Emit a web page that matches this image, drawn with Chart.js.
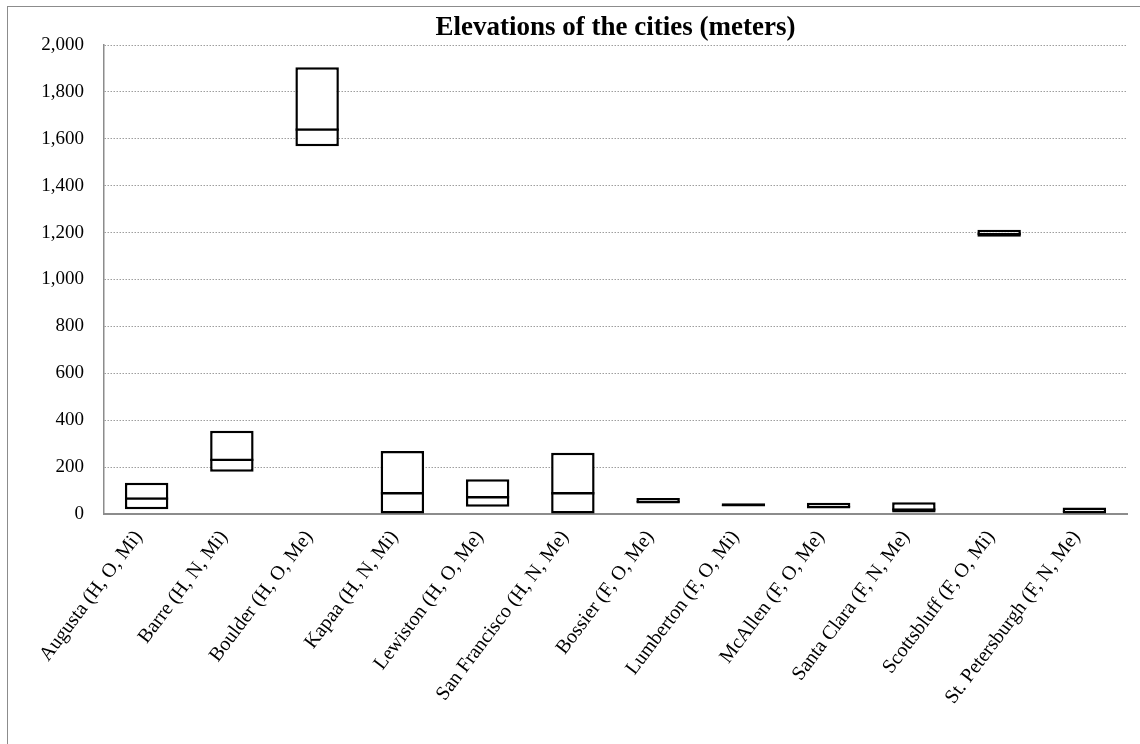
<!DOCTYPE html>
<html>
<head>
<meta charset="utf-8">
<title>Elevations of the cities</title>
<script src="https://cdn.jsdelivr.net/npm/chart.js@4.4.1/dist/chart.umd.min.js"></script>
<style>
  html, body { margin: 0; padding: 0; background: #fff; overflow: hidden; }
  #wrap { position: relative; width: 1140px; height: 744px; }
  #frame {
    position: absolute; left: 7px; top: 6px; width: 1400px; height: 1000px;
    border: 1.5px solid #8c8c8c; pointer-events: none;
  }
</style>
</head>
<body>
<div id="wrap">
  <canvas id="chart" width="1140" height="744"></canvas>
  <div id="frame"></div>
</div>
<script>
// cities: (H/F, O/N, Mi/Me)
const cities = [
  "Augusta (H, O, Mi)", "Barre (H, N, Mi)", "Boulder (H, O, Me)", "Kapaa (H, N, Mi)",
  "Lewiston (H, O, Me)", "San Francisco (H, N, Me)", "Bossier (F, O, Me)", "Lumberton (F, O, Mi)",
  "McAllen (F, O, Me)", "Santa Clara (F, N, Me)", "Scottsbluff (F, O, Mi)", "St. Petersburgh (F, N, Me)"
];

// elevation spread per city, meters
const lowElev  = [20, 180, 1568, 0, 31, 0, 45, 32, 23, 6, 1182, 2];
const midElev  = [71, 237, 1645, 94, 77, 94, 55, 38, 35, 24, 1198, 14];
const highElev = [133, 355, 1905, 269, 148, 261, 68, 46, 48, 50, 1212, 28];

const yTicks = [0, 200, 400, 600, 800, 1000, 1200, 1400, 1600, 1800, 2000];

const serif = "'Liberation Serif', 'Times New Roman', serif";

const boxes = cities.map((c, i) => [lowElev[i], highElev[i]]);
const lowerHalf = cities.map((c, i) => [lowElev[i], midElev[i]]);

const ctx = document.getElementById("chart").getContext("2d");

new Chart(ctx, {
  type: "bar",
  data: {
    labels: cities,
    datasets: [
      {
        // whole box low..high
        label: "range",
        data: boxes,
        backgroundColor: "#ffffff",
        borderColor: "#000000",
        borderWidth: 2.5,
        borderSkipped: false,
        grouped: false,
        order: 2
      },
      {
        // only its top edge is drawn: the middle line
        label: "middle",
        data: lowerHalf,
        backgroundColor: "rgba(0,0,0,0)",
        borderColor: "#000000",
        borderWidth: { top: 2.5, bottom: 0, left: 0, right: 0 },
        borderSkipped: false,
        grouped: false,
        order: 1
      }
    ]
  },
  options: {
    responsive: false,
    animation: false,
    categoryPercentage: 0.51,
    barPercentage: 1,
    layout: { padding: { left: 0, right: 13, top: 0, bottom: 0 } },
    plugins: {
      legend: { display: false },
      tooltip: { enabled: false },
      title: {
        display: true,
        text: "Elevations of the cities (meters)",
        fullSize: false,
        color: "#000",
        font: { family: serif, size: 27, weight: "bold", lineHeight: 1.2 },
        padding: { top: 12, bottom: 0.6 }
      }
    },
    scales: {
      x: {
        grid: { display: false, drawTicks: false },
        border: { display: true, color: "#8c8c8c", width: 2 },
        ticks: {
          autoSkip: false,
          minRotation: 53,
          maxRotation: 53,
          padding: 12,
          labelOffset: -8,
          color: "#000",
          font: { family: serif, size: 20 }
        },
        afterFit: (scale) => { scale.height = 230; }
      },
      y: {
        min: 0,
        max: 2000,
        afterBuildTicks: (scale) => { scale.ticks = yTicks.map(v => ({ value: v })); },
        grid: {
          color: "#9e9e9e",
          lineWidth: 1,
          drawTicks: false
        },
        // dotted grid lines, solid axis line
        border: { display: true, color: "#8c8c8c", width: 1.5, dash: [1.5, 1.5] },
        ticks: {
          padding: 20,
          color: "#000",
          font: { family: serif, size: 19 },
          callback: (v) => v.toLocaleString("en-US")
        },
        afterFit: (scale) => { scale.width = 104; }
      }
    }
  }
});
</script>
</body>
</html>
